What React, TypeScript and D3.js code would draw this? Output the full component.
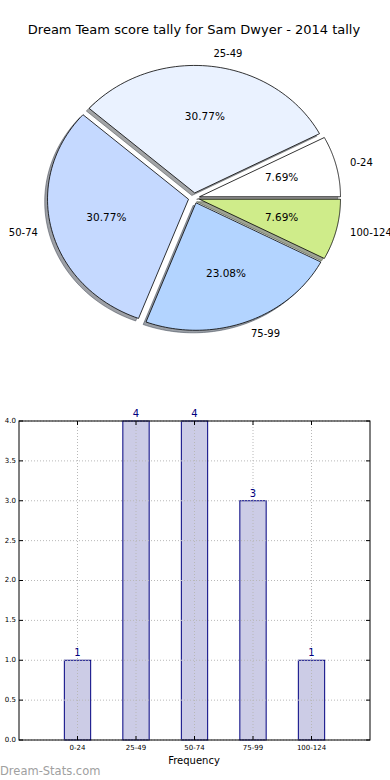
import { useEffect, useRef } from "react";
import * as d3 from "d3";

// score bands and how many rounds fell in each
const bands = ["0-24", "25-49", "50-74", "75-99", "100-124"];
const counts = [1, 4, 4, 3, 1];
const sliceColors = ["#ffffff", "#eaf2ff", "#c5d9ff", "#b3d4ff", "#cfec8a"];
const yTicks = [0, 0.5, 1, 1.5, 2, 2.5, 3, 3.5, 4];

const W = 390;
const H = 780;
const font = "DejaVu Sans, sans-serif";

const drawChart = (el: SVGSVGElement) => {
    const svg = d3.select(el);
    svg.selectAll("*").remove();

    svg.append("text")
        .attr("x", 194)
        .attr("y", 30)
        .attr("text-anchor", "middle")
        .attr("dominant-baseline", "middle")
        .attr("font-size", 13)
        .text("Dream Team score tally for Sam Dwyer - 2014 tally");

    // ---- pie (matplotlib style: starts at 3 o'clock, goes counter-clockwise, exploded + shadow)
    const cx = 194, cy = 198, rx = 141, ry = 127.5;
    const explode = 0.04;
    const total = d3.sum(counts);

    let acc = 0;
    const wedges = counts.map((v, i) => {
        const a0 = (acc / total) * 2 * Math.PI;
        acc += v;
        const a1 = (acc / total) * 2 * Math.PI;
        return { i, a0, a1, mid: (a0 + a1) / 2, v };
    });

    // wedge on an ellipse (axes not equal in the original)
    const wedgePath = (w: any, ox: number, oy: number) => {
        const path = d3.path();
        path.moveTo(ox, oy);
        const n = 60;
        for (let k = 0; k <= n; k++) {
            const a = w.a0 + (w.a1 - w.a0) * (k / n);
            path.lineTo(ox + rx * Math.cos(a), oy - ry * Math.sin(a));
        }
        path.closePath();
        return path.toString();
    };

    const centre = (w: any) => ({
        x: cx + explode * rx * Math.cos(w.mid),
        y: cy - explode * ry * Math.sin(w.mid),
    });

    const pie = svg.append("g");
    // shadows first
    wedges.forEach(w => {
        const c = centre(w);
        const col = d3.rgb(sliceColors[w.i]);
        const dark = d3.rgb(col.r * 0.3, col.g * 0.3, col.b * 0.3);
        pie.append("path")
            .attr("d", wedgePath(w, c.x - 0.02 * rx, c.y + 0.02 * ry))
            .attr("fill", dark.toString())
            .attr("fill-opacity", 0.5)
            .attr("stroke", dark.toString())
            .attr("stroke-opacity", 0.5);
    });
    wedges.forEach(w => {
        const c = centre(w);
        pie.append("path")
            .attr("d", wedgePath(w, c.x, c.y))
            .attr("fill", sliceColors[w.i])
            .attr("stroke", "#000")
            .attr("stroke-width", 0.8)
            .attr("stroke-linejoin", "round");
    });
    wedges.forEach(w => {
        const ox = Math.cos(w.mid), oy = Math.sin(w.mid);
        pie.append("text")
            .attr("x", cx + (explode + 1.1) * rx * ox)
            .attr("y", cy - (explode + 1.1) * ry * oy)
            .attr("text-anchor", ox > 0 ? "start" : "end")
            .attr("dominant-baseline", "middle")
            .attr("font-size", 10)
            .text(bands[w.i]);
        pie.append("text")
            .attr("x", cx + (explode + 0.6) * rx * ox)
            .attr("y", cy - (explode + 0.6) * ry * oy)
            .attr("text-anchor", "middle")
            .attr("dominant-baseline", "middle")
            .attr("font-size", 10.5)
            .text(d3.format(".2f")((w.v / total) * 100) + "%");
    });

    // ---- bar chart
    const left = 19, right = 370, top = 421, bottom = 740;
    const x = d3.scaleLinear().domain([0, 6]).range([left, right]);
    const y = d3.scaleLinear().domain([0, 4]).range([bottom, top]);
    const bw = 0.45;

    const g = svg.append("g");
    g.selectAll("rect.bar")
        .data(counts)
        .join("rect")
        .attr("class", "bar")
        .attr("x", (_, i) => x(i + 1 - bw / 2))
        .attr("width", x(bw) - x(0))
        .attr("y", d => y(d))
        .attr("height", d => y(0) - y(d))
        .attr("fill", "#ccccе6".replace("е", "e"))
        .attr("stroke", "#000080")
        .attr("stroke-width", 1);

    // dotted grid over the bars
    g.selectAll("line.gx")
        .data(bands)
        .join("line")
        .attr("x1", (_, i) => x(i + 1))
        .attr("x2", (_, i) => x(i + 1))
        .attr("y1", top)
        .attr("y2", bottom)
        .attr("stroke", "#b8b8b8")
        .attr("stroke-dasharray", "1,2");
    g.selectAll("line.gy")
        .data(yTicks)
        .join("line")
        .attr("x1", left)
        .attr("x2", right)
        .attr("y1", d => y(d))
        .attr("y2", d => y(d))
        .attr("stroke", "#b8b8b8")
        .attr("stroke-dasharray", "1,2");

    // inward ticks on all four sides
    yTicks.forEach(t => {
        g.append("line").attr("x1", left).attr("x2", left + 4).attr("y1", y(t)).attr("y2", y(t)).attr("stroke", "#000");
        g.append("line").attr("x1", right).attr("x2", right - 4).attr("y1", y(t)).attr("y2", y(t)).attr("stroke", "#000");
    });
    bands.forEach((_, i) => {
        g.append("line").attr("x1", x(i + 1)).attr("x2", x(i + 1)).attr("y1", bottom).attr("y2", bottom - 4).attr("stroke", "#000");
        g.append("line").attr("x1", x(i + 1)).attr("x2", x(i + 1)).attr("y1", top).attr("y2", top + 4).attr("stroke", "#000");
    });

    g.append("rect")
        .attr("x", left).attr("y", top)
        .attr("width", right - left).attr("height", bottom - top)
        .attr("fill", "none").attr("stroke", "#000").attr("stroke-width", 1);

    g.selectAll("text.yt")
        .data(yTicks)
        .join("text")
        .attr("x", left - 3)
        .attr("y", d => y(d))
        .attr("text-anchor", "end")
        .attr("dominant-baseline", "middle")
        .attr("font-size", 7)
        .text(d => d3.format(".1f")(d));

    g.selectAll("text.xt")
        .data(bands)
        .join("text")
        .attr("x", (_, i) => x(i + 1))
        .attr("y", bottom + 8)
        .attr("text-anchor", "middle")
        .attr("dominant-baseline", "middle")
        .attr("font-size", 7)
        .text(d => d);

    g.selectAll("text.val")
        .data(counts)
        .join("text")
        .attr("x", (_, i) => x(i + 1))
        .attr("y", d => y(d) - 4)
        .attr("text-anchor", "middle")
        .attr("font-size", 10)
        .attr("fill", "#000080")
        .text(d => d);

    g.append("text")
        .attr("x", 194)
        .attr("y", 761)
        .attr("text-anchor", "middle")
        .attr("dominant-baseline", "middle")
        .attr("font-size", 10)
        .text("Frequency");

    svg.append("text")
        .attr("x", 0)
        .attr("y", 775)
        .attr("font-size", 11.5)
        .attr("fill", "#a0a0a0")
        .text("Dream-Stats.com");
};

export default function App() {
    const ref = useRef<SVGSVGElement>(null);
    useEffect(() => {
        if (ref.current) drawChart(ref.current);
    }, []);
    return (
        <svg
            ref={ref}
            width={W}
            height={H}
            style={{ position: "absolute", left: 0, top: 0, fontFamily: font, background: "#fff" }}
        />
    );
}
